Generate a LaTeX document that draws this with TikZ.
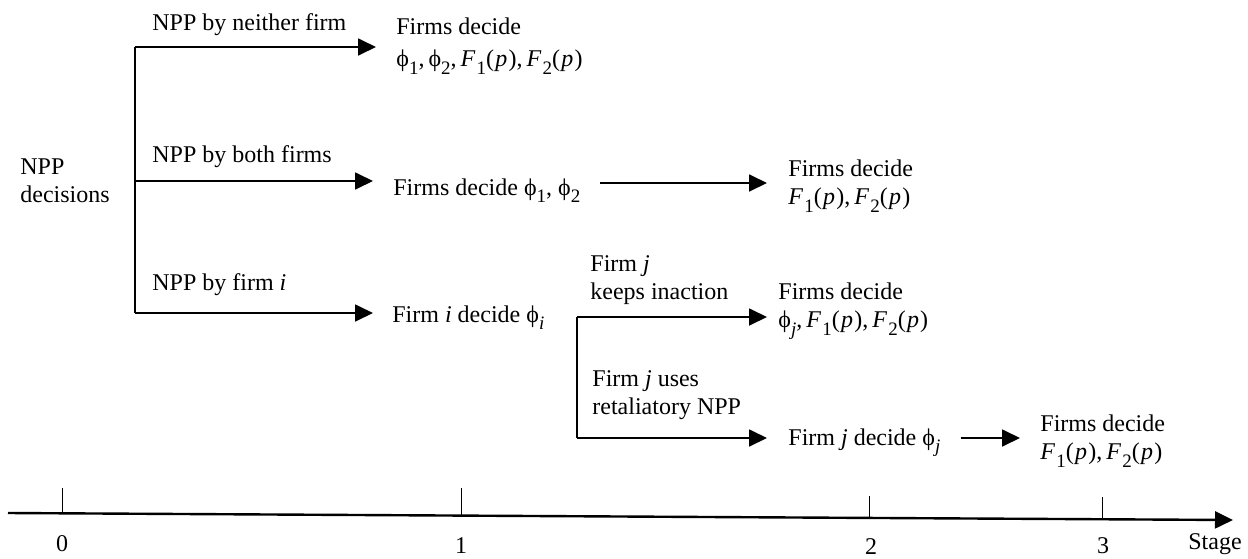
\documentclass[tikz,border=0pt]{standalone}
\usepackage{fontspec}
\setmainfont{Liberation Serif}
\usetikzlibrary{arrows.meta,positioning}
\newcommand{\vphi}{\char"03D5}
\newcommand{\lowsub}[1]{\raisebox{-0.7ex}{\fontsize{9.5}{9.5}\selectfont #1}}
\newcommand{\Fp}[1]{\textit{F}\kern0.6pt\lowsub{#1}(\kern0.6pt\textit{p}\/\kern0.6pt)}

\begin{document}
\begin{tikzpicture}[
    x=0.5pt, y=-0.5pt,
    >={Triangle[length=9pt,width=8.5pt]},
    txt/.style={inner sep=0pt, anchor=base west, font=\fontsize{12}{14}\selectfont},
    box/.style={inner sep=0pt, anchor=west, align=left, font=\fontsize{12}{14}\selectfont},
    link/.style={line width=0.9pt},
    arr/.style={->, line width=0.9pt},
    tick/.style={line width=0.5pt}
  ]
  \useasboundingbox (0,0) rectangle (1248,558);

  % stage 0 -> 1
  \node[box] (npp) at (20,181) {NPP\\decisions};
  \node[txt] (lneither) at (152,30) {NPP by neither firm};
  \node[txt] (lboth) at (152,162) {NPP by both firms};
  \node[txt] (lone) at (152,290) {NPP by firm \textit{i}};
  \coordinate (fa) at (135,47);
  \coordinate (fb) at (135,313);
  \coordinate (fm) at (135,181);

  \node[box] (neither) at (396,46)
    {Firms decide\\[2pt]\vphi\lowsub{1},\,\vphi\lowsub{2},\,\Fp{1},\,\Fp{2}};
  \node[txt] (both) at (393,195) {Firms decide \vphi\lowsub{1}, \vphi\lowsub{2}};
  \node[txt] (one) at (392,322) {Firm \textit{i} decide \vphi\lowsub{\textit{i}}};

  \draw[link] (fa) -- (fb);
  \draw[arr, shorten >=10pt] (fa) -- (fa -| neither.west);
  \draw[arr, shorten >=10pt] (fm) -- (fm -| both.west);
  \draw[arr, shorten >=9.5pt] (fb) -- (fb -| one.west);

  % stage 1 -> 2
  \node[box] (bothF) at (788,186) {Firms decide\\\Fp{1},\,\Fp{2}};
  \coordinate (fc) at (580,183);
  \draw[arr, shorten <=10pt, shorten >=10.5pt] (fc) -- (fc -| bothF.west);

  \node[box] (lkeep) at (590,280) {Firm \textit{j}\\keeps inaction};
  \node[box] (lretal) at (592,395) {Firm \textit{j} uses\\retaliatory NPP};
  \coordinate (ga) at (577,317);
  \coordinate (gb) at (577,438);
  \node[box] (keep) at (778,311)
    {Firms decide\\\vphi\lowsub{\textit{j}},\,\Fp{1},\,\Fp{2}};
  \node[txt] (retal) at (788,445) {Firm \textit{j} decide \vphi\lowsub{\textit{j}}};

  \draw[link] (ga) -- (gb);
  \draw[arr, shorten >=5.5pt] (ga) -- (ga -| keep.west);
  \draw[arr, shorten >=10.5pt] (gb) -- (gb -| retal.west);

  % stage 2 -> 3
  \node[box] (retalF) at (1040,441) {Firms decide\\\Fp{1},\,\Fp{2}};
  \draw[arr, shorten <=10pt, shorten >=10pt] (retal.east |- gb) -- (retalF.west |- gb);

  % time axis
  \coordinate (axs) at (8,513);
  \coordinate (axe) at (1233,520);
  \draw[arr, line width=1.2pt] (axs) -- (axe);
  \draw[tick] (62,488) coordinate (t0) -- (62,512);
  \draw[tick] (461,488) coordinate (t1) -- (461,515);
  \draw[tick] (869,496) coordinate (t2) -- (869,518);
  \draw[tick] (1102,497) coordinate (t3) -- (1102,518);
  \node[txt, anchor=center] (s0) at (62,544) {0};
  \node[txt, anchor=center] (s1) at (461,546) {1};
  \node[txt, anchor=center] (s2) at (871,547) {2};
  \node[txt, anchor=center] (s3) at (1103,546) {3};
  \node[txt, anchor=center] (stage) at (1215,544) {Stage};
\end{tikzpicture}
\end{document}
